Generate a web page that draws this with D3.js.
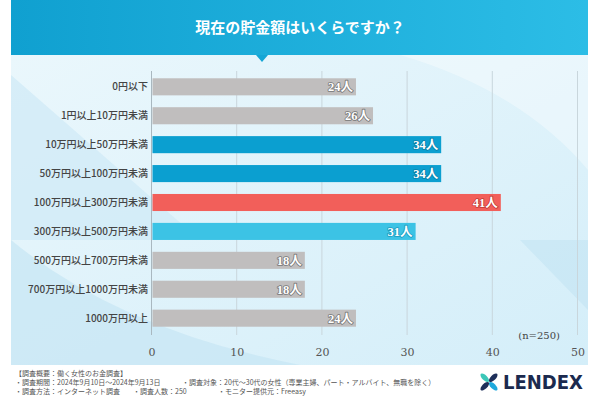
<!DOCTYPE html>
<html><head><meta charset="utf-8">
<script src="https://cdn.jsdelivr.net/npm/d3@7"></script>
<style>body{margin:0;background:#fff}svg{display:block}</style>
</head><body>
<script>
const categories = ["0円以下","1円以上10万円未満","10万円以上50万円未満","50万円以上100万円未満","100万円以上300万円未満","300万円以上500万円未満","500万円以上700万円未満","700万円以上1000万円未満","1000万円以上"];
const values = [24,26,34,34,41,31,18,18,24];
const barColors = ["#c0bebe","#c0bebe","#0b9fd0","#0b9fd0","#f25f5a","#3cc3e5","#c0bebe","#c0bebe","#c0bebe"];
const labelStrokes = ["#777","#777","#0a7fa8","#0a7fa8","#c23b36","#1a9cc0","#777","#777","#777"];
const xTicks = [0,10,20,30,40,50];
const title = "現在の貯金額はいくらですか？";
const sampleNote = "(n=250)";
const footerLines = ["【調査概要：働く女性のお金調査】"];
const footerRow2 = ["・調査期間：2024年9月10日～2024年9月13日","・調査対象：20代～30代の女性（専業主婦、パート・アルバイト、無職を除く）"];
const footerRow3 = ["・調査方法：インターネット調査","・調査人数：250","・モニター提供元：Freeasy"];

const W=600,H=400;
const svg=d3.select("body").append("svg").attr("width",W).attr("height",H);
const defs=svg.append("defs");
const hg=defs.append("linearGradient").attr("id","hg").attr("x1",0).attr("x2",1);
hg.append("stop").attr("offset",0).attr("stop-color","#10a0d0");
hg.append("stop").attr("offset",1).attr("stop-color","#2cbde6");
const pg=defs.append("linearGradient").attr("id","pg").attr("x1",0).attr("y1",0).attr("x2",1).attr("y2",1);
pg.append("stop").attr("offset",0).attr("stop-color","#eaf7fc");
pg.append("stop").attr("offset",1).attr("stop-color","#d4eef9");

const font="'Noto Sans CJK JP', 'Noto Sans', sans-serif";
// panel
svg.append("rect").attr("x",11).attr("y",55).attr("width",577).attr("height",310).attr("fill","url(#pg)");
svg.append("path").attr("d","M11,75 L200,240 L11,240 Z").attr("fill","#cfeaf6").attr("opacity",0.7);
svg.append("path").attr("d","M11,240 Q120,330 300,365 L11,365 Z").attr("fill","#c6e6f4").attr("opacity",0.7);
svg.append("path").attr("d","M400,55 Q520,90 588,170 L588,55 Z").attr("fill","#ffffff").attr("opacity",0.35);
svg.append("path").attr("d","M520,240 L588,310 L588,240 Z").attr("fill","#c6e6f4").attr("opacity",0.7);
// header
svg.append("rect").attr("x",11).attr("y",0).attr("width",577).attr("height",55).attr("fill","url(#hg)");
svg.append("path").attr("d","M256,55 L268,55 L262,62 Z").attr("fill","#14a6d5");
svg.append("text").attr("x",300).attr("y",33).attr("text-anchor","middle").attr("fill","#fff")
  .attr("font-family","'Noto Sans CJK JP', sans-serif").attr("font-weight",700).attr("font-size",15).text(title);

const x=d3.scaleLinear().domain([0,50]).range([151.5,577.5]);
const y=d3.scaleBand().domain(categories).range([72.5,332.5]).paddingInner(0.41).paddingOuter(0.2);

// gridlines
const g=svg.append("g");
g.selectAll("line.grid").data(xTicks).join("line").attr("class","grid")
  .attr("x1",d=>x(d)).attr("x2",d=>x(d)).attr("y1",71).attr("y2",335)
  .attr("stroke",d=>d===0?"#a9b8c0":"#c9d6dc").attr("stroke-width",1);
// axis tick labels
const ax=svg.append("g").attr("transform","translate(0,356)").call(d3.axisBottom(x).tickValues(xTicks).tickSize(0).tickPadding(0));
ax.select(".domain").remove();
ax.selectAll("text").attr("font-family","'DejaVu Serif', serif").attr("font-size",11).attr("fill","#555").attr("dy","0");

// bars
svg.selectAll("rect.bar").data(values).join("rect").attr("class","bar")
  .attr("x",x(0)+1).attr("y",(d,i)=>y(categories[i]))
  .attr("width",d=>x(d)-x(0)-1).attr("height",y.bandwidth())
  .attr("fill",(d,i)=>barColors[i]);
// category labels
svg.selectAll("text.cat").data(categories).join("text").attr("class","cat")
  .attr("x",148).attr("y",d=>y(d)+y.bandwidth()/2+3.5).attr("text-anchor","end")
  .attr("font-family","'Noto Sans CJK JP', serif").attr("font-size",10).attr("font-weight",500).attr("fill","#444").text(d=>d);
// value labels
svg.selectAll("text.val").data(values).join("text").attr("class","val")
  .attr("x",d=>x(d)-3).attr("y",(d,i)=>y(categories[i])+y.bandwidth()/2+4.5).attr("text-anchor","end")
  .attr("font-family","'Liberation Serif', 'Noto Sans CJK JP', serif").attr("font-weight",700).attr("font-size",12.5)
  .attr("fill","#fff").attr("stroke",(d,i)=>labelStrokes[i]).attr("stroke-width",1.6).attr("paint-order","stroke")
  .attr("stroke-linejoin","round").text(d=>d+"人");
// n note
svg.append("text").attr("x",560).attr("y",339).attr("text-anchor","end").attr("font-family","'DejaVu Serif', serif")
  .attr("font-size",10).attr("fill","#444").text(sampleNote);

// footer
const ff=svg.append("g").attr("font-family",font).attr("font-size",7).attr("fill","#555");
ff.append("text").attr("x",15).attr("y",376).text(footerLines[0]);
[15,182].forEach((xx,i)=>ff.append("text").attr("x",xx).attr("y",385).text(footerRow2[i]));
[15,133,218].forEach((xx,i)=>ff.append("text").attr("x",xx).attr("y",394).text(footerRow3[i]));

// logo
const lg=svg.append("g").attr("transform","translate(489,382)");
const petals=[[-45,"#1e2f5a"],[45,"#1ea8dc"],[135,"#1e2f5a"],[225,"#3cc7b8"]];
petals.forEach(([a,c])=>{
  lg.append("ellipse").attr("cx",6).attr("cy",0).attr("rx",5.5).attr("ry",2.6).attr("fill",c).attr("transform",`rotate(${a})`);
});
svg.append("text").attr("x",503).attr("y",389).attr("font-family","'DejaVu Sans',sans-serif").attr("font-weight",700)
  .attr("font-size",19).attr("fill","#1b2a4e").attr("textLength",80).attr("lengthAdjust","spacingAndGlyphs").text("LENDEX");
</script>
</body></html>
